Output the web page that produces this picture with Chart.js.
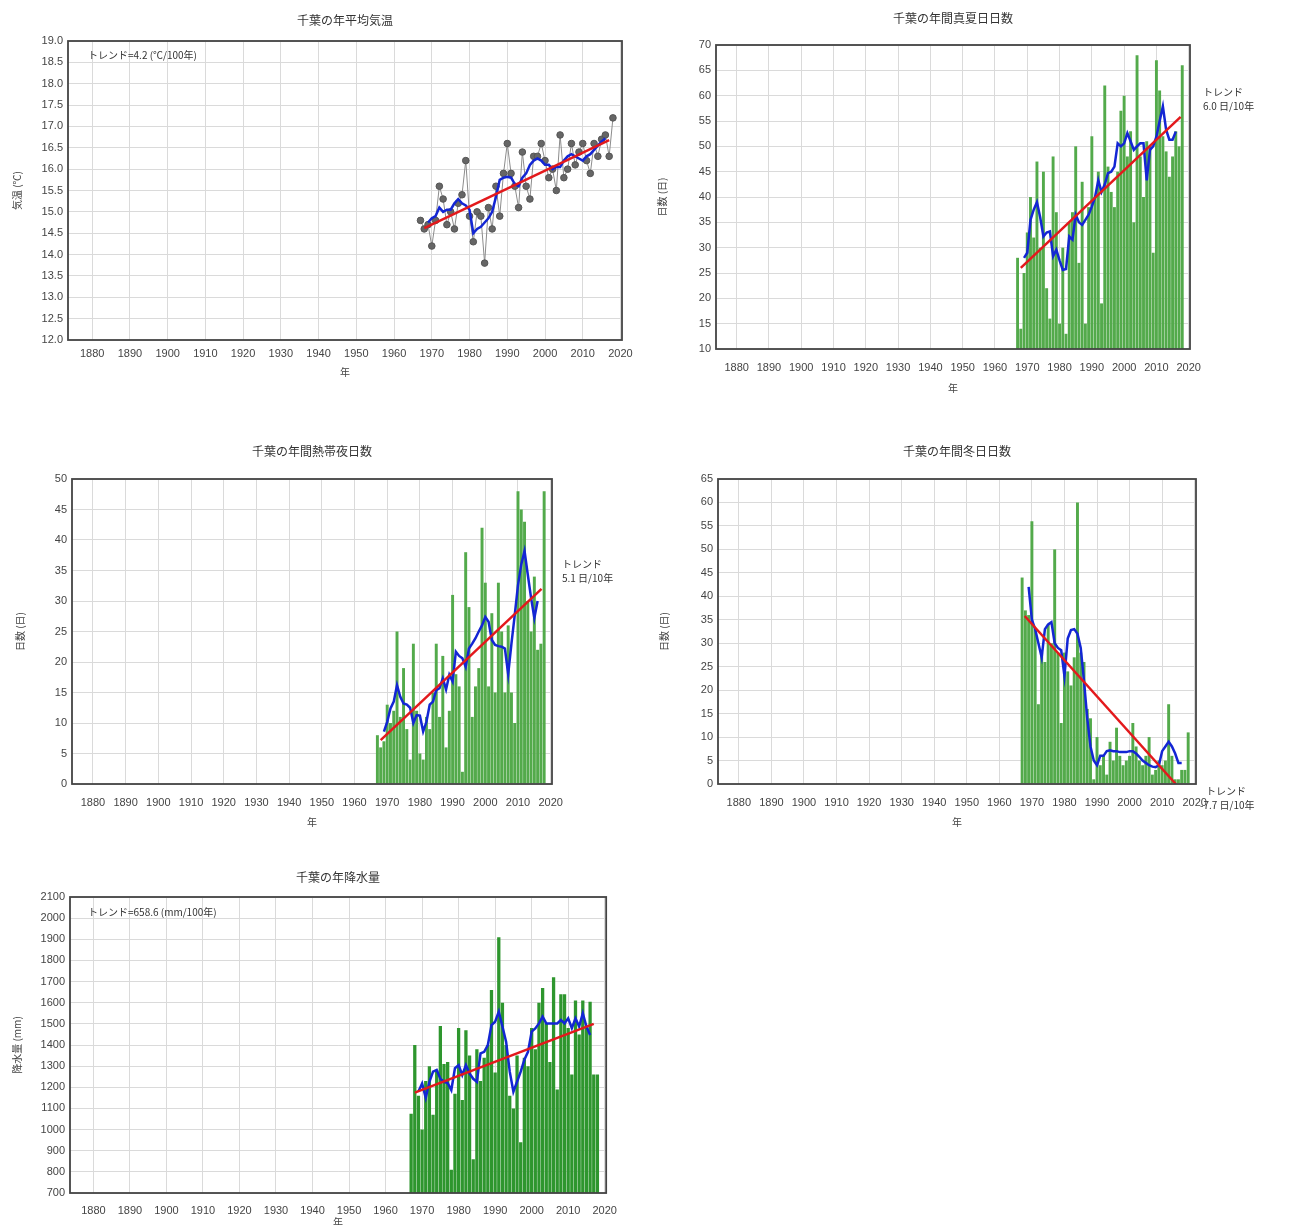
<!DOCTYPE html>
<html lang="ja">
<head>
<meta charset="utf-8">
<title>千葉の気候の変化</title>
<script src="https://cdn.jsdelivr.net/npm/chart.js@4.4.1/dist/chart.umd.min.js"></script>
<style>
  html, body { margin: 0; padding: 0; background: #fff; }
  body { position: relative; width: 1299px; height: 1225px; overflow: hidden; }
  canvas { position: absolute; }
</style>
</head>
<body>
<canvas id="tempChart"></canvas>
<canvas id="hotChart"></canvas>
<canvas id="nightChart"></canvas>
<canvas id="winterChart"></canvas>
<canvas id="rainChart"></canvas>
<script>
const years = [1967, 1968, 1969, 1970, 1971, 1972, 1973, 1974, 1975, 1976, 1977, 1978, 1979,
  1980, 1981, 1982, 1983, 1984, 1985, 1986, 1987, 1988, 1989, 1990, 1991, 1992, 1993, 1994,
  1995, 1996, 1997, 1998, 1999, 2000, 2001, 2002, 2003, 2004, 2005, 2006, 2007, 2008, 2009,
  2010, 2011, 2012, 2013, 2014, 2015, 2016, 2017, 2018];
const meanYears = years.slice(2, 50); // 5年移動平均 1969-2016
const decadeTicks = [1880, 1890, 1900, 1910, 1920, 1930, 1940, 1950, 1960, 1970, 1980, 1990, 2000, 2010, 2020];

// 年平均気温 (℃)
const tempValues = [14.8, 14.6, 14.7, 14.2, 14.8, 15.6, 15.3, 14.7, 15.0, 14.6, 15.2, 15.4, 16.2,
  14.9, 14.3, 15.0, 14.9, 13.8, 15.1, 14.6, 15.6, 14.9, 15.9, 16.6, 15.9, 15.6, 15.1, 16.4,
  15.6, 15.3, 16.3, 16.3, 16.6, 16.2, 15.8, 16.0, 15.5, 16.8, 15.8, 16.0, 16.6, 16.1, 16.4,
  16.6, 16.2, 15.9, 16.6, 16.3, 16.7, 16.8, 16.3, 17.2];
const tempMean = [14.75, 14.85, 14.9, 15.1, 15.0, 15.05, 15.05, 15.2, 15.3, 15.2, 15.15, 15.05,
  14.5, 14.6, 14.65, 14.75, 14.85, 15.0, 15.35, 15.75, 15.8, 15.82, 15.8, 15.65, 15.6, 15.8,
  15.9, 16.1, 16.2, 16.25, 16.2, 16.1, 16.1, 16.0, 16.05, 16.05, 16.2, 16.3, 16.35, 16.3,
  16.25, 16.2, 16.3, 16.35, 16.45, 16.55, 16.65, 16.72];
const tempTrend = [[1968, 14.62], [2017, 16.68]];

// 年間真夏日日数
const hotDays = [28, 14, 25, 33, 40, 32, 47, 30, 45, 22, 16, 48, 37, 15, 30, 13, 35, 37, 50, 27,
  43, 15, 38, 52, 40, 45, 19, 62, 46, 41, 38, 45, 57, 60, 48, 53, 35, 68, 48, 40, 51, 50, 29,
  67, 61, 52, 49, 44, 48, 53, 50, 66];
const hotMean = [28, 29, 35.5, 37.5, 39, 36, 32.2, 33, 33.2, 28.3, 29.6, 27.5, 25.6, 25.8, 32.2,
  31.6, 36.5, 35, 34.5, 35.5, 36.5, 38.1, 40, 43.3, 41, 42.5, 44.7, 45, 46, 50.6, 50, 50.6,
  52.6, 51, 49.3, 50, 50.6, 50.6, 43.3, 49.3, 50, 51.9, 55, 57.9, 53.3, 51.3, 51.3, 52.9];
const hotTrend = [[1968, 26], [2017.5, 55.8]];

// 年間熱帯夜日数
const nightDays = [8, 6, 7, 13, 10, 12, 25, 11, 19, 9, 4, 23, 12, 5, 4, 11, 9, 15, 23, 11, 21,
  6, 12, 31, 18, 16, 2, 38, 29, 11, 16, 19, 42, 33, 16, 28, 15, 33, 25, 15, 26, 15, 10, 48,
  45, 43, 30, 25, 34, 22, 23, 48];
const nightMean = [8.6, 10.2, 12.4, 13.5, 16.2, 14.3, 13.2, 13.0, 12.5, 10.0, 11.3, 11.2, 8.6,
  10.2, 13.0, 13.5, 15.4, 15.7, 17.3, 15.5, 17.9, 16.8, 21.7, 21.0, 20.6, 19.2, 22.2, 23.0,
  23.9, 25.0, 26.0, 27.4, 26.6, 23.6, 22.8, 22.6, 22.5, 22.2, 18.0, 23.0, 27.7, 32.6, 36.0,
  38.2, 34.3, 30.5, 27.2, 30.0];
const nightTrend = [[1968, 7.2], [2017.2, 32]];

// 年間冬日日数
const winterDays = [44, 37, 36, 56, 33, 17, 28, 26, 34, 30, 50, 28, 13, 28, 24, 21, 27, 60, 28,
  26, 16, 14, 1, 10, 4, 6, 2, 9, 5, 12, 6, 4, 5, 6, 13, 8, 5, 4, 6, 10, 2, 3, 5, 4, 5, 17, 6,
  1, 1, 3, 3, 11];
const winterMean = [42, 35, 33, 30, 27, 33, 34, 34.5, 30, 29, 28.5, 23, 31, 32.8, 33, 32, 29,
  22, 14, 8, 5, 4, 6, 6, 7, 7.2, 7, 7, 6.8, 6.8, 6.8, 7, 7, 6.5, 5.8, 5, 4.5, 4, 3.7, 3.6, 4,
  7, 8, 9, 8, 6.5, 4.5, 4.5];
const winterTrend = [[1967.8, 35.8], [2014.2, 0]];

// 年降水量 (mm)
const rainValues = [1075, 1400, 1160, 1000, 1230, 1300, 1070, 1280, 1490, 1310, 1320, 810, 1170,
  1480, 1140, 1470, 1350, 860, 1380, 1230, 1340, 1400, 1660, 1270, 1910, 1600, 1400, 1160,
  1100, 1350, 940, 1340, 1300, 1480, 1380, 1600, 1670, 1500, 1320, 1720, 1190, 1640, 1640,
  1480, 1260, 1610, 1450, 1610, 1480, 1605, 1260, 1260];
const rainMean = [1180, 1218, 1150, 1226, 1274, 1282, 1240, 1226, 1220, 1187, 1290, 1305, 1258,
  1305, 1265, 1240, 1226, 1360, 1368, 1400, 1494, 1510, 1558, 1487, 1416, 1274, 1179, 1226,
  1274, 1330, 1368, 1463, 1478, 1502, 1534, 1502, 1502, 1502, 1502, 1518, 1502, 1526, 1480,
  1526, 1487, 1550, 1487, 1447];
const rainTrend = [[1968, 1175], [2017, 1500]];

const TICK_FONT = { family: '"Liberation Sans", Arial, sans-serif', size: 11 };
const JP_FONT = { family: '"Noto Sans CJK JP", sans-serif', size: 10 };
const Y_BOX = 60, TOP_PAD = 40, X_BOX = 50;

function pairs(xs, ys) {
  return ys.map((v, i) => ({ x: xs[i], y: v }));
}

function trendData(t) {
  return t.map(p => ({ x: p[0], y: p[1] }));
}

function textPlugin(cfg) {
  return {
    id: 'panelText',
    afterDraw(chart) {
      const { ctx, chartArea: a } = chart;
      ctx.save();
      ctx.strokeStyle = '#444';
      ctx.lineWidth = 1.8;
      ctx.strokeRect(a.left, a.top, a.right - a.left, a.bottom - a.top);

      ctx.fillStyle = '#333';
      ctx.textBaseline = 'middle';
      ctx.textAlign = 'center';
      ctx.font = '12px "Noto Sans CJK JP", sans-serif';
      ctx.fillText(cfg.title, (a.left + a.right) / 2, a.top - cfg.titleGap);

      ctx.textAlign = 'left';
      ctx.font = '10px "Noto Sans CJK JP", sans-serif';
      cfg.notes.forEach(n => {
        const x = n.fromRight ? a.right + n.dx : a.left + n.dx;
        ctx.fillText(n.text, x, a.top + n.dy);
      });
      ctx.restore();
    }
  };
}

function drawPanel(id, frame, cfg, datasets) {
  const cv = document.getElementById(id);
  const w = frame.w + Y_BOX + cfg.padR;
  const h = frame.h + TOP_PAD + X_BOX;
  cv.width = w;
  cv.height = h;
  cv.style.width = w + 'px';
  cv.style.height = h + 'px';
  cv.style.left = (frame.left - Y_BOX) + 'px';
  cv.style.top = (frame.top - TOP_PAD) + 'px';

  return new Chart(cv, {
    type: cfg.type,
    data: { datasets: datasets },
    options: {
      responsive: false,
      animation: false,
      layout: { padding: { left: 0, top: TOP_PAD, right: cfg.padR, bottom: 0 } },
      plugins: { legend: { display: false }, tooltip: { enabled: false } },
      scales: {
        x: {
          type: 'linear',
          min: 1873.6,
          max: 2020.4,
          offset: false,
          afterBuildTicks: s => { s.ticks = decadeTicks.map(v => ({ value: v })); },
          afterFit: s => { s.height = X_BOX; },
          grid: { color: '#dadada', drawTicks: false, offset: false },
          border: { display: false },
          ticks: { font: TICK_FONT, color: '#444', padding: cfg.xPad, maxRotation: 0, autoSkip: false,
            callback: v => String(v) },
          title: { display: true, text: '年', font: JP_FONT, color: '#444',
            padding: { top: 0, bottom: cfg.xTitlePad } }
        },
        y: {
          min: cfg.yMin,
          max: cfg.yMax,
          afterFit: s => { s.width = Y_BOX; },
          grid: { color: '#dadada', drawTicks: false },
          border: { display: false },
          ticks: { stepSize: cfg.step, maxTicksLimit: 40, font: TICK_FONT, color: '#444', padding: 5,
            callback: v => v.toFixed(cfg.dec) },
          title: { display: true, text: cfg.yTitle, font: JP_FONT, color: '#444',
            padding: { top: cfg.yTitlePad, bottom: 0 } }
        }
      }
    },
    plugins: [textPlugin(cfg)]
  });
}

function lineSets(mean, trend) {
  return [
    { type: 'line', data: trendData(trend), borderColor: '#e3191c', borderWidth: 2.5,
      pointRadius: 0, order: 1 },
    { type: 'line', data: pairs(meanYears, mean), borderColor: '#1326d4', borderWidth: 2.5,
      pointRadius: 0, order: 2 }
  ];
}

function barSet(values, color) {
  return { type: 'bar', data: pairs(years, values), backgroundColor: color,
    barPercentage: 0.9, categoryPercentage: 1.0, order: 4 };
}

drawPanel('tempChart', { left: 68, top: 41, w: 554, h: 299 }, {
  type: 'line', padR: 20, yMin: 12, yMax: 19, step: 0.5, dec: 1,
  title: '千葉の年平均気温', titleGap: 21, yTitle: '気温 (℃)', yTitlePad: 3, xPad: 7, xTitlePad: 12,
  notes: [{ text: 'トレンド=4.2 (℃/100年)', dx: 20, dy: 14 }]
}, [
  ...lineSets(tempMean, tempTrend),
  { type: 'line', data: pairs(years, tempValues), borderColor: '#8c8c8c', borderWidth: 1,
    pointRadius: 3.3, pointBackgroundColor: '#666', pointBorderColor: '#555', order: 3 }
]);

drawPanel('hotChart', { left: 716, top: 45, w: 474, h: 304 }, {
  type: 'bar', padR: 95, yMin: 10, yMax: 70, step: 5, dec: 0,
  title: '千葉の年間真夏日日数', titleGap: 27, yTitle: '日数 (日)', yTitlePad: 0, xPad: 12, xTitlePad: 5,
  notes: [
    { text: 'トレンド', dx: 13, dy: 47, fromRight: true },
    { text: '6.0 日/10年', dx: 13, dy: 61, fromRight: true }
  ]
}, [...lineSets(hotMean, hotTrend), barSet(hotDays, '#53aa4b')]);

drawPanel('nightChart', { left: 72, top: 479, w: 480, h: 305 }, {
  type: 'bar', padR: 95, yMin: 0, yMax: 50, step: 5, dec: 0,
  title: '千葉の年間熱帯夜日数', titleGap: 28, yTitle: '日数 (日)', yTitlePad: 2, xPad: 12, xTitlePad: 6,
  notes: [
    { text: 'トレンド', dx: 10, dy: 85, fromRight: true },
    { text: '5.1 日/10年', dx: 10, dy: 99, fromRight: true }
  ]
}, [...lineSets(nightMean, nightTrend), barSet(nightDays, '#53aa4b')]);

drawPanel('winterChart', { left: 718, top: 479, w: 478, h: 305 }, {
  type: 'bar', padR: 95, yMin: 0, yMax: 65, step: 5, dec: 0,
  title: '千葉の年間冬日日数', titleGap: 28, yTitle: '日数 (日)', yTitlePad: 0, xPad: 12, xTitlePad: 6,
  notes: [
    { text: 'トレンド', dx: 10, dy: 312, fromRight: true },
    { text: '-7.7 日/10年', dx: 4, dy: 326, fromRight: true }
  ]
}, [...lineSets(winterMean, winterTrend), barSet(winterDays, '#53aa4b')]);

drawPanel('rainChart', { left: 70, top: 897, w: 538, h: 296 }, {
  type: 'bar', padR: 20, yMin: 700, yMax: 2100, step: 100, dec: 0,
  title: '千葉の年降水量', titleGap: 20, yTitle: '降水量 (mm)', yTitlePad: 1, xPad: 11, xTitlePad: 15,
  notes: [{ text: 'トレンド=658.6 (mm/100年)', dx: 18, dy: 15 }]
}, [...lineSets(rainMean, rainTrend), barSet(rainValues, '#2e962e')]);
</script>
</body>
</html>
